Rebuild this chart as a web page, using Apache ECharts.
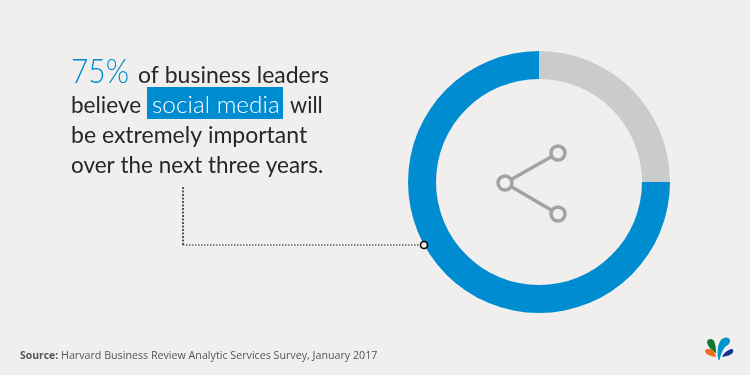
<!DOCTYPE html>
<html>
<head>
<meta charset="utf-8">
<style>
  html, body { margin: 0; padding: 0; background: #f0efee; }
  #chart { width: 750px; height: 375px; }
</style>
<script src="https://cdn.jsdelivr.net/npm/echarts@6/dist/echarts.min.js"></script>
</head>
<body>
<div id="chart"></div>
<script>
const categories = ['Other', 'Extremely important'];
const shares = [25, 75];
const sliceColors = ['#c9cbcc', '#008cd0'];
const sourceLabel = 'Source:';
const sourceText = 'Harvard Business Review Analytic Services Survey, January 2017';

const BLUE = '#008cd0';
const ICON = '#a0a3a5';
const FONT = 'Lato, "Open Sans", sans-serif';

// baseline is where the letters sit, canvas middle is about 0.3em above it
function headline(x, baseline, text, size, color, weight, scaleX) {
  return {
    type: 'text', x: x, y: baseline - size * 0.3, scaleX: scaleX || 1, z: 20,
    style: {
      text: text, fill: color || '#262626',
      font: (weight || 400) + ' ' + size + 'px ' + FONT,
      textVerticalAlign: 'middle', textAlign: 'left'
    }
  };
}

function sourceItem(x, text, weight, size) {
  return {
    type: 'text', x: x, y: 356, z: 20,
    style: {
      text: text, fill: '#555555',
      font: weight + ' ' + size + 'px "Open Sans", sans-serif',
      textVerticalAlign: 'middle', textAlign: 'left'
    }
  };
}

// logo petals, only reachable through a custom series since graphic has no path type
const logoPetals = [
  ['M718.5 360 C716.5 350 718 338 726 337.5 C731 337.5 731.5 343 727 345.5 C723 348 721 354 719.5 360 Z', '#0094c9'],
  ['M716 353.5 C713 351 707.5 347 707 342 C707.5 338.5 712 338 714 341 C716 345 716 350 716 353.5 Z', '#11772d'],
  ['M716 357 C712 356.5 705.5 355 705 351 C705.5 348.5 710 348.5 712.5 350.5 C714.5 352.5 715.5 355 716 357 Z', '#f26a1b'],
  ['M722 357 C724 353 727.5 349.5 732 349 C734 349.5 733.5 352.5 731.5 354 C728.5 356 725 356.5 722 357 Z', '#12358f']
];

const chart = echarts.init(document.getElementById('chart'));
chart.setOption({
  backgroundColor: '#f0efee',
  animation: false,
  series: [
    {
      type: 'pie',
      center: [539, 182],
      radius: [103, 131],
      startAngle: 90,
      silent: true,
      label: { show: false },
      labelLine: { show: false },
      data: categories.map((name, i) => ({
        name: name, value: shares[i], itemStyle: { color: sliceColors[i] }
      }))
    },
    {
      type: 'custom',
      coordinateSystem: 'none',
      silent: true,
      data: [0],
      renderItem: function () {
        return {
          type: 'group',
          children: logoPetals.map((p) => ({
            type: 'path',
            shape: { pathData: p[0] },
            style: { fill: p[1] }
          }))
        };
      }
    }
  ],
  graphic: [
    headline(71, 82, '75%', 34, BLUE, 300, 0.88),
    headline(138, 82, 'of business leaders', 23),
    headline(71, 112, 'believe', 23, null, 400, 0.98),
    { type: 'rect', z: 10, shape: { x: 147, y: 87, width: 136, height: 32 }, style: { fill: BLUE } },
    headline(152, 112, 'social media', 23, '#ffffff', 300, 1.06),
    headline(290, 112, 'will', 23, null, 400, 0.95),
    headline(71, 142, 'be extremely important', 23),
    headline(71, 172, 'over the next three years.', 23, null, 400, 0.977),

    // dotted leader
    { type: 'line', shape: { x1: 183, y1: 187, x2: 183, y2: 245 },
      style: { stroke: '#555', lineWidth: 2, lineDash: [2, 1.5] } },
    { type: 'line', shape: { x1: 183, y1: 245, x2: 420, y2: 245 },
      style: { stroke: '#666', lineWidth: 1.5, lineDash: [1.5, 1.5] } },
    { type: 'circle', z: 10, shape: { cx: 424, cy: 245, r: 3.5 },
      style: { fill: '#f0efee', stroke: '#000', lineWidth: 1.6 } },

    // share icon
    { type: 'line', shape: { x1: 505, y1: 183, x2: 558, y2: 153 }, style: { stroke: ICON, lineWidth: 3.5 } },
    { type: 'line', shape: { x1: 505, y1: 183, x2: 558, y2: 214 }, style: { stroke: ICON, lineWidth: 3.5 } },
    { type: 'circle', z: 5, shape: { cx: 558, cy: 153, r: 7 }, style: { fill: '#f0efee', stroke: ICON, lineWidth: 3.5 } },
    { type: 'circle', z: 5, shape: { cx: 505, cy: 183, r: 7 }, style: { fill: '#f0efee', stroke: ICON, lineWidth: 3.5 } },
    { type: 'circle', z: 5, shape: { cx: 558, cy: 214, r: 7 }, style: { fill: '#f0efee', stroke: ICON, lineWidth: 3.5 } },

    sourceItem(20, sourceLabel, 700, 10.4),
    sourceItem(61, sourceText, 400, 10.7)
  ]
});
</script>
</body>
</html>
